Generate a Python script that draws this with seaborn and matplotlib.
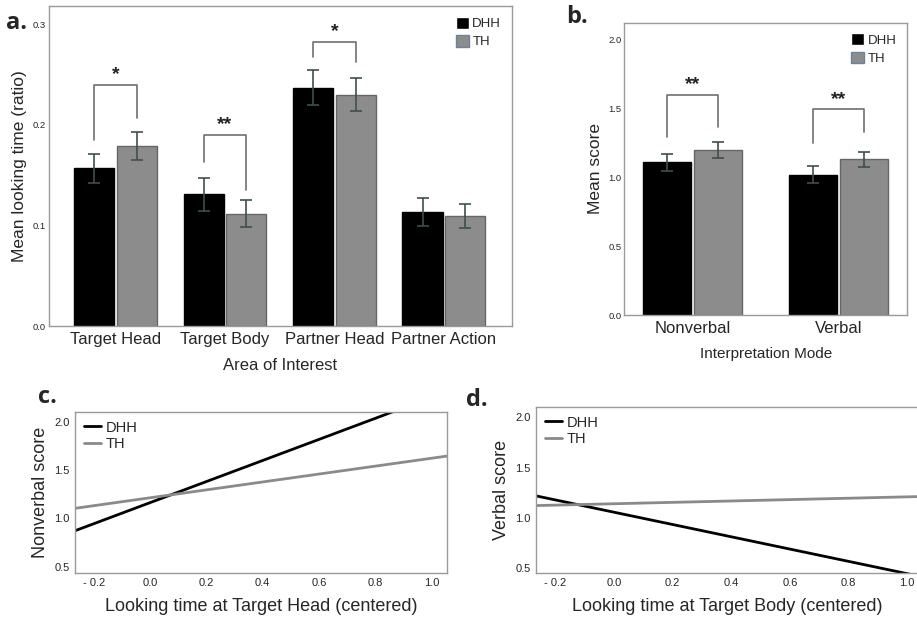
import matplotlib
matplotlib.use("Agg")
import matplotlib.pyplot as plt
import seaborn as sns
import pandas as pd

# --- data ---
groups = ["DHH", "TH"]

aoi = ["Target Head", "Target Body", "Partner Head", "Partner Action"]
dhh_look = [0.157, 0.131, 0.237, 0.1135]
th_look = [0.179, 0.112, 0.230, 0.1095]
dhh_look_err = [0.0145, 0.0165, 0.0175, 0.0135]
th_look_err = [0.014, 0.013, 0.0165, 0.012]

modes = ["Nonverbal", "Verbal"]
dhh_score = [1.109, 1.019]
th_score = [1.196, 1.130]
dhh_score_err = [0.061, 0.060]
th_score_err = [0.057, 0.053]

# significance brackets: (category index, label, left leg end, right leg end, top)
sig_a = [(0, "*", 0.185, 0.207, 0.240), (1, "**", 0.163, 0.135, 0.190), (2, "*", 0.268, 0.263, 0.282)]
sig_b = [(0, "**", 1.292, 1.367, 1.599), (1, "**", 1.246, 1.326, 1.493)]

# simple slopes (line end points)
x_head = [-0.267, 1.056]
dhh_nonverbal = [0.872, 2.314]
th_nonverbal = [1.104, 1.645]

x_body = [-0.267, 1.04]
dhh_verbal = [1.217, 0.416]
th_verbal = [1.120, 1.210]

line_ticks = [-0.2, 0.0, 0.2, 0.4, 0.6, 0.8, 1.0]
line_tick_labels = ["- 0.2", "0.0", "0.2", "0.4", "0.6", "0.8", "1.0"]
score_ticks = [0.5, 1.0, 1.5, 2.0]

sns.set_style("white")
plt.rcParams["font.family"] = ["Liberation Sans", "DejaVu Sans"]

bar_pal = {"DHH": "black", "TH": "#8c8c8c"}
line_pal = {"DHH": "black", "TH": "#8a8a8a"}
spine_col = "#9a9a9a"


def style_box(ax):
    for s in ax.spines.values():
        s.set_color(spine_col)
        s.set_linewidth(1.0)


def bar_panel(ax, cats, dhh, th, dhh_err, th_err, width, sigs, star_off, ylim, yticks,
              ylab, xlab, xlab_fs, xlab_pad):
    df = pd.DataFrame({"cat": cats * 2, "group": ["DHH"] * len(cats) + ["TH"] * len(cats), "value": dhh + th})
    sns.barplot(df, x="cat", y="value", hue="group", palette=bar_pal, saturation=1,
                width=width, gap=0.06, errorbar=None, ax=ax)
    for bar in ax.containers[0]:
        bar.set_edgecolor("black")
    for bar in ax.containers[1]:
        bar.set_edgecolor("#666666")
        bar.set_linewidth(1.0)
    for cont, errs in zip(ax.containers, [dhh_err, th_err]):
        for bar, e in zip(cont, errs):
            ax.errorbar(bar.get_x() + bar.get_width() / 2, bar.get_height(), yerr=e,
                        color="#3e4f4f", lw=1.2, capsize=4, capthick=1.2)
    for i, lab, y1, y2, top in sigs:
        b1 = ax.containers[0][i]
        b2 = ax.containers[1][i]
        x1 = b1.get_x() + b1.get_width() / 2
        x2 = b2.get_x() + b2.get_width() / 2
        ax.plot([x1, x1, x2, x2], [y1, top, top, y2], color="#707070", lw=1.2)
        ax.text((x1 + x2) / 2, top + star_off, lab, ha="center", va="bottom",
                fontsize=14, fontweight="bold", color="#222222")
    ax.set_ylim(*ylim)
    ax.set_yticks(yticks)
    ax.set_xlabel(xlab, fontsize=xlab_fs, labelpad=xlab_pad)
    ax.set_ylabel(ylab, fontsize=12.5, labelpad=4)
    ax.tick_params(axis="x", labelsize=12, length=0, pad=4)
    ax.tick_params(axis="y", labelsize=6.8, length=0, pad=2)
    style_box(ax)
    sns.move_legend(ax, "upper right", title=None, frameon=False, fontsize=9.5,
                    handlelength=1.0, handleheight=1.0, handletextpad=0.25,
                    labelspacing=0.35, borderaxespad=0.4)
    leg = ax.get_legend()
    leg.legend_handles[1].set_edgecolor("#7080a0")


def line_panel(ax, x, dhh, th, xlim, ylim, ylab, xlab):
    df = pd.DataFrame({"x": x * 2, "y": dhh + th, "group": ["DHH"] * len(x) + ["TH"] * len(x)})
    sns.lineplot(df, x="x", y="y", hue="group", palette=line_pal, lw=2, ax=ax)
    ax.set_xlim(*xlim)
    ax.set_ylim(*ylim)
    ax.set_xticks(line_ticks)
    ax.set_xticklabels(line_tick_labels)
    ax.set_yticks(score_ticks)
    ax.set_xlabel(xlab, fontsize=13, labelpad=7)
    ax.set_ylabel(ylab, fontsize=13, labelpad=4)
    ax.tick_params(axis="both", labelsize=8, length=0, pad=4)
    style_box(ax)
    sns.move_legend(ax, "upper left", title=None, frameon=False, fontsize=10.5,
                    handlelength=1.2, handletextpad=0.3, labelspacing=0.2, borderaxespad=0.2)


fig = plt.figure(figsize=(9.17, 6.19), dpi=100)
ax_a = fig.add_axes([0.0534, 0.473, 0.5046, 0.517])
ax_b = fig.add_axes([0.681, 0.491, 0.308, 0.472])
ax_c = fig.add_axes([0.0818, 0.0748, 0.406, 0.260])
ax_d = fig.add_axes([0.5845, 0.0748, 0.4175, 0.268])

bar_panel(ax_a, aoi, dhh_look, th_look, dhh_look_err, th_look_err, 0.78, sig_a, 0.002,
          (0, 0.318), [0.0, 0.1, 0.2, 0.3], "Mean looking time (ratio)", "Area of Interest", 12, 8)
ax_a.set_xlim(-0.61, 3.62)

bar_panel(ax_b, modes, dhh_score, th_score, dhh_score_err, th_score_err, 0.70, sig_b, 0.01,
          (0, 2.12), [0.0, 0.5, 1.0, 1.5, 2.0], "Mean score", "Interpretation Mode", 11, 8)
ax_b.set_xlim(-0.464, 1.467)

line_panel(ax_c, x_head, dhh_nonverbal, th_nonverbal, (-0.267, 1.056), (0.438, 2.103),
           "Nonverbal score", "Looking time at Target Head (centered)")
line_panel(ax_d, x_body, dhh_verbal, th_verbal, (-0.267, 1.04), (0.45, 2.106),
           "Verbal score", "Looking time at Target Body (centered)")
ax_d.spines["right"].set_visible(False)

for lab, x, y in [("a.", 0.007, 0.963), ("b.", 0.617, 0.972), ("c.", 0.041, 0.358), ("d.", 0.508, 0.354)]:
    fig.text(x, y, lab, ha="left", va="center", fontsize=17, fontweight="bold",
             family=["Open Sans", "DejaVu Sans"])

fig.savefig("out.png", dpi=100)
